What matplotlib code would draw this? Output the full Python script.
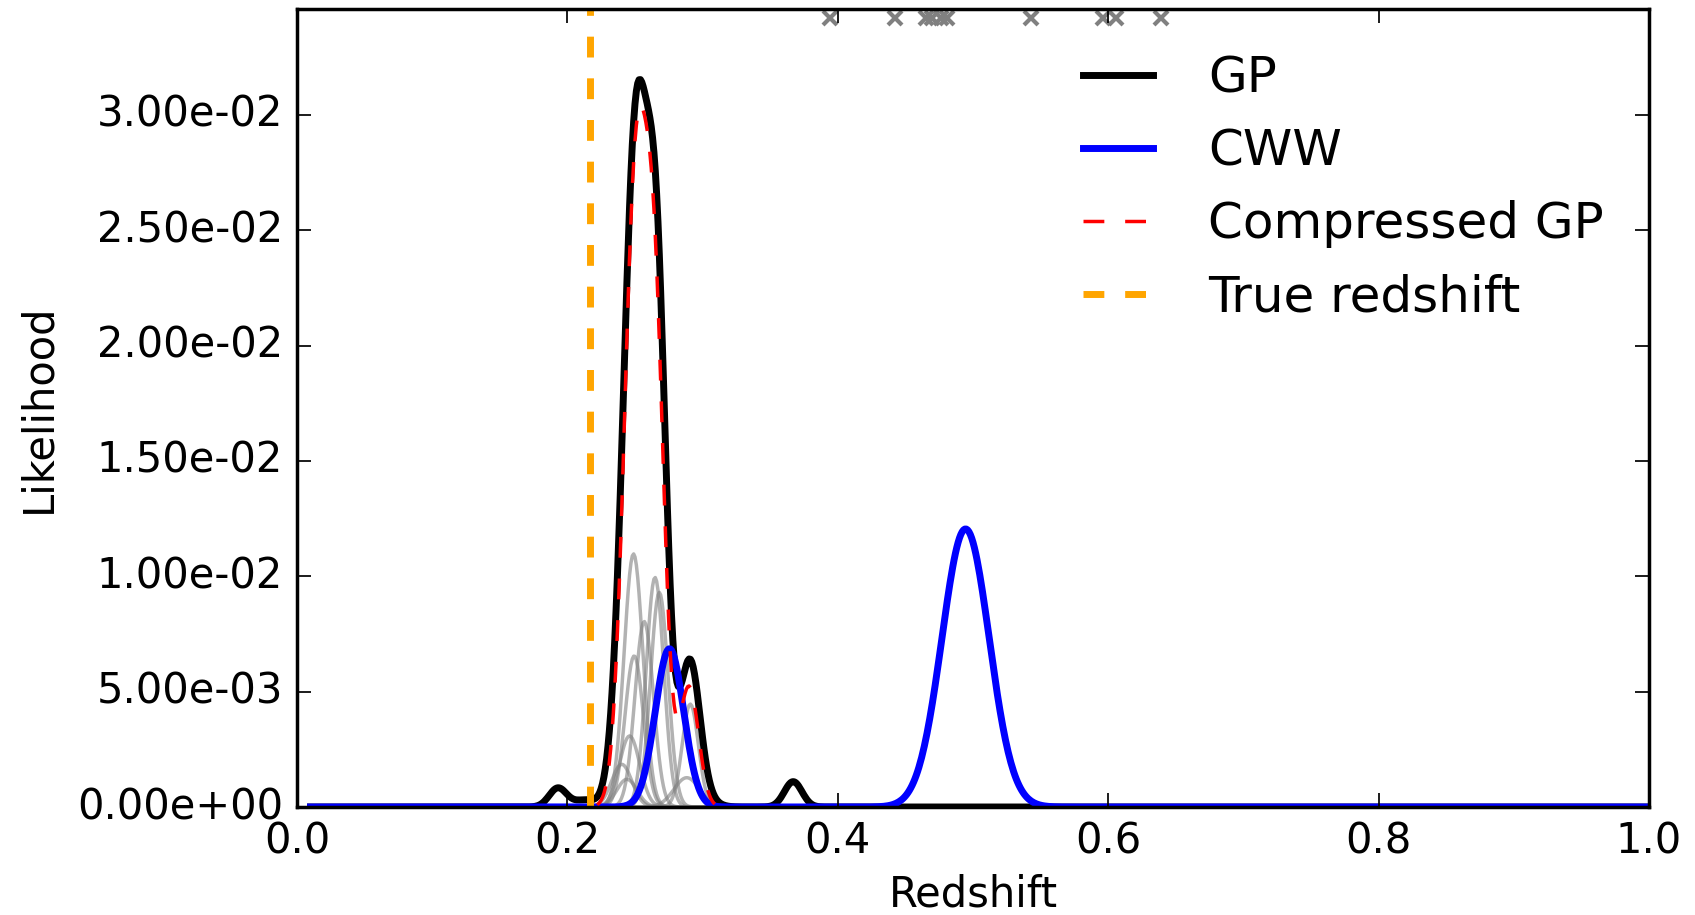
import matplotlib
matplotlib.use('Agg')
import matplotlib.pyplot as plt
from matplotlib.ticker import FormatStrFormatter
import numpy as np

plt.style.use('classic')

# redshift grid the likelihoods are evaluated on
z = np.linspace(0.01, 1.0, 991)

# GP likelihood, described as gaussian bumps (centre, height, width)
gp_mu = [0.193, 0.213, 0.2402, 0.2445, 0.2500, 0.2568, 0.2648, 0.2680, 0.2885, 0.2909, 0.367]
gp_amp = [0.00082, 0.00030, 0.0021, 0.0050, 0.0184, 0.0086, 0.0106, 0.0099, 0.0016, 0.0048, 0.00110]
gp_sig = [0.0065, 0.0080, 0.0080, 0.0080, 0.0078, 0.0075, 0.0070, 0.0068, 0.0110, 0.0070, 0.0065]

# individual GP components (grey)
comp_mu = [0.2489, 0.2648, 0.2680, 0.2568, 0.2494, 0.2909, 0.2460, 0.2402, 0.2440, 0.2883]
comp_amp = [0.01097, 0.00995, 0.0093, 0.00804, 0.00655, 0.00446, 0.00308, 0.00185, 0.0012, 0.00127]
comp_sig = [0.0070, 0.0065, 0.0065, 0.0068, 0.0068, 0.0060, 0.0075, 0.0075, 0.0075, 0.0095]

# compressed GP
cgp_mu = [0.2505, 0.2650, 0.2900]
cgp_amp = [0.0268, 0.0185, 0.0052]
cgp_sig = [0.0085, 0.0072, 0.0070]
cgp_range = [0.222, 0.309]

# CWW template fit
cww_mu = [0.2755, 0.4945]
cww_amp = [0.00686, 0.01205]
cww_sig = [0.0105, 0.0175]

z_true = 0.2167
z_marks = [0.3945, 0.4426, 0.4655, 0.4695, 0.4765, 0.4810, 0.5426, 0.5960, 0.6055, 0.6390]
y_marks = 0.0342


def bumps(x, mu, amp, sig):
    x = np.asarray(x)[:, None]
    return np.sum(np.array(amp) * np.exp(-0.5 * ((x - np.array(mu)) / np.array(sig)) ** 2), axis=1)


fig = plt.figure(figsize=(1695 / 250., 915 / 250.), dpi=250, facecolor='white')
ax = fig.add_axes([297 / 1695., 1 - 807 / 915., (1649 - 297) / 1695., (807 - 9.3) / 915.])

for mu, amp, sig in zip(comp_mu, comp_amp, comp_sig):
    ax.plot(z, bumps(z, [mu], [amp], [sig]), color='gray', alpha=0.6, lw=1)

ax.plot(z, bumps(z, gp_mu, gp_amp, gp_sig), color='k', lw=2, label='GP')
ax.plot(z, bumps(z, cww_mu, cww_amp, cww_sig), color='b', lw=2, label='CWW')
zc = z[(z >= cgp_range[0]) & (z <= cgp_range[1])]
ax.plot(zc, bumps(zc, cgp_mu, cgp_amp, cgp_sig), color='r', ls='--', lw=1, label='Compressed GP')
ax.axvline(z_true, color='orange', ls='--', lw=2, label='True redshift')
ax.plot(z_marks, [y_marks] * len(z_marks), 'x', color='gray', ms=4, mew=1.2)

ax.set_xlim(0, 1)
ax.set_ylim(0, 0.03457)
ax.set_yticks(np.arange(0, 0.0301, 0.005))
ax.yaxis.set_major_formatter(FormatStrFormatter('%.2e'))
ax.tick_params(labelsize=12)
ax.set_xlabel('Redshift', fontsize=12, labelpad=3)
ax.set_ylabel('Likelihood', fontsize=12)
ax.legend(loc='upper right', frameon=False, fontsize='large')

fig.savefig('out.png', dpi=250, facecolor='white')
